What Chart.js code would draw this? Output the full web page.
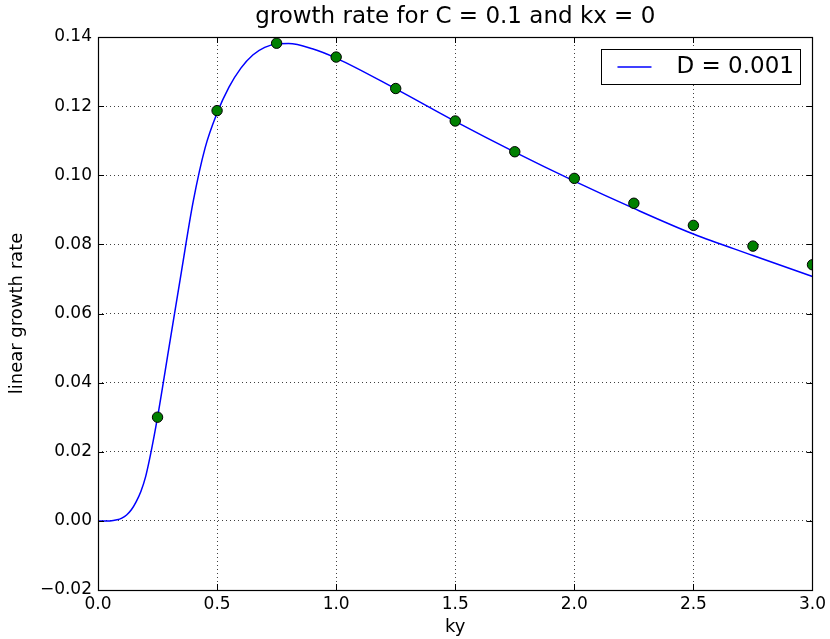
<!DOCTYPE html>
<html>
<head>
<meta charset="utf-8">
<script src="https://cdn.jsdelivr.net/npm/chart.js@4/dist/chart.umd.min.js"></script>
<style>
  html, body { margin: 0; padding: 0; background: #fff; }
  #wrap { width: 830px; height: 639px; }
</style>
</head>
<body>
<div id="wrap"><canvas id="c" width="830" height="639"></canvas></div>
<script>
// Solid curve: linear growth rate versus ky for D = 0.001
const kyCurve = [0, 0.05, 0.08, 0.10, 0.12, 0.14, 0.16, 0.18, 0.20, 0.22, 0.25, 0.30, 0.35, 0.40, 0.45, 0.50,
                 0.55, 0.60, 0.65, 0.70, 0.75, 0.80, 0.90, 1.00, 1.25, 1.50, 1.75, 2.00, 2.25, 2.50, 2.75, 3.00];
const rateCurve = [0, 0.0000, 0.0003, 0.0008, 0.0017, 0.0032, 0.0055, 0.0085, 0.0128, 0.0190, 0.0300, 0.0510, 0.0720, 0.0925, 0.1080, 0.1180,
                   0.1255, 0.1310, 0.1348, 0.1370, 0.1380, 0.1381, 0.1366, 0.1339, 0.1250, 0.1156, 0.1067, 0.0983, 0.0904, 0.0830, 0.0768, 0.0707];

// Sampled growth rates (green markers)
const kySample = [0.25, 0.50, 0.75, 1.00, 1.25, 1.50, 1.75, 2.00, 2.25, 2.50, 2.75, 3.00];
const rateSample = [0.0300, 0.1187, 0.1382, 0.1342, 0.1251, 0.1157, 0.1068, 0.0991, 0.0919, 0.0855, 0.0795, 0.0741];

// Axis ticks
const xTicks = [0.0, 0.5, 1.0, 1.5, 2.0, 2.5, 3.0];
const yTicks = [-0.02, 0.00, 0.02, 0.04, 0.06, 0.08, 0.10, 0.12, 0.14];

const curveLabel = 'D = 0.001';
const FONT = "'DejaVu Sans', 'Liberation Sans', sans-serif";

// Frame on all four sides plus inward tick marks
const framePlugin = {
  id: 'frame',
  afterDatasetsDraw(chart) {
    const { ctx, chartArea: a, scales } = chart;
    const len = 6;
    ctx.save();
    ctx.strokeStyle = '#000';
    ctx.lineWidth = 1;
    ctx.beginPath();
    xTicks.forEach(v => {
      const px = Math.round(scales.x.getPixelForValue(v)) + 0.5;
      ctx.moveTo(px, a.bottom); ctx.lineTo(px, a.bottom - len);
      ctx.moveTo(px, a.top); ctx.lineTo(px, a.top + len);
    });
    yTicks.forEach(v => {
      const py = Math.round(scales.y.getPixelForValue(v)) + 0.5;
      ctx.moveTo(a.left, py); ctx.lineTo(a.left + len, py);
      ctx.moveTo(a.right, py); ctx.lineTo(a.right - len, py);
    });
    ctx.stroke();
    ctx.lineWidth = 1.2;
    ctx.strokeRect(Math.round(a.left) + 0.5, Math.round(a.top) + 0.5,
                   Math.round(a.right - a.left), Math.round(a.bottom - a.top));
    ctx.restore();
  }
};

// Boxed legend in the upper right corner of the plot
const boxLegend = {
  id: 'boxLegend',
  afterDraw(chart) {
    const { ctx, chartArea: a } = chart;
    const ds = chart.data.datasets.find(d => d.label);
    const boxW = 199, boxH = 35;
    const x0 = a.right - 12 - boxW, y0 = a.top + 12;
    ctx.save();
    ctx.fillStyle = '#fff';
    ctx.fillRect(x0, y0, boxW, boxH);
    ctx.strokeStyle = '#000';
    ctx.lineWidth = 1;
    ctx.strokeRect(Math.round(x0) + 0.5, Math.round(y0) + 0.5, boxW, boxH);
    const cy = y0 + boxH / 2 + 0.5;
    ctx.strokeStyle = ds.borderColor;
    ctx.lineWidth = ds.borderWidth;
    ctx.beginPath();
    ctx.moveTo(x0 + 16, cy); ctx.lineTo(x0 + 50, cy);
    ctx.stroke();
    ctx.fillStyle = '#000';
    ctx.font = '23px ' + FONT;
    ctx.textBaseline = 'middle';
    ctx.textAlign = 'left';
    ctx.fillText(ds.label, x0 + 75, cy);
    ctx.restore();
  }
};

new Chart(document.getElementById('c'), {
  data: {
    datasets: [
      {
        type: 'scatter',
        data: kySample.map((k, i) => ({ x: k, y: rateSample[i] })),
        backgroundColor: '#008000',
        borderColor: '#000',
        borderWidth: 1,
        pointRadius: 5.2,
        pointHoverRadius: 5.2,
        clip: 0
      },
      {
        type: 'line',
        label: curveLabel,
        data: kyCurve.map((k, i) => ({ x: k, y: rateCurve[i] })),
        borderColor: '#0000ff',
        borderWidth: 1.5,
        pointRadius: 0,
        fill: false,
        cubicInterpolationMode: 'monotone',
        clip: 0
      }
    ]
  },
  options: {
    responsive: false,
    animation: false,
    events: [],
    layout: { padding: { left: 0, right: 16, top: 0, bottom: 0 } },
    plugins: {
      legend: { display: false },
      tooltip: { enabled: false },
      title: {
        display: true,
        fullSize: false,
        text: 'growth rate for C = 0.1 and kx = 0',
        color: '#000',
        font: { family: FONT, size: 23, weight: 'normal', lineHeight: 1.2 },
        padding: { top: 3, bottom: 6.4 }
      }
    },
    scales: {
      x: {
        type: 'linear',
        min: 0, max: 3,
        afterBuildTicks(s) { s.ticks = xTicks.map(v => ({ value: v })); },
        afterFit(s) { s.height = 49; },
        ticks: {
          color: '#000',
          font: { family: FONT, size: 17 },
          padding: 4,
          maxRotation: 0,
          callback: v => Number(v).toFixed(1)
        },
        grid: { color: 'rgba(0,0,0,0.75)', lineWidth: 1, drawTicks: false },
        border: { display: false, dash: [1, 3] },
        title: {
          display: true, text: 'ky', color: '#000',
          font: { family: FONT, size: 18 },
          padding: { top: 0, bottom: 1 }
        }
      },
      y: {
        type: 'linear',
        min: -0.02, max: 0.14,
        afterBuildTicks(s) { s.ticks = yTicks.map(v => ({ value: v })); },
        afterFit(s) { s.width = 98; },
        ticks: {
          color: '#000',
          font: { family: FONT, size: 17 },
          padding: 6,
          callback: v => {
            const t = Number(v).toFixed(2);
            return t.startsWith('-') ? '\u2212' + t.slice(1) : t;
          }
        },
        grid: { color: 'rgba(0,0,0,0.75)', lineWidth: 1, drawTicks: false },
        border: { display: false, dash: [1, 3] },
        title: {
          display: true, text: 'linear growth rate', color: '#000',
          font: { family: FONT, size: 18 },
          padding: { top: 7, bottom: 0 }
        }
      }
    }
  },
  plugins: [framePlugin, boxLegend]
});
</script>
</body>
</html>
